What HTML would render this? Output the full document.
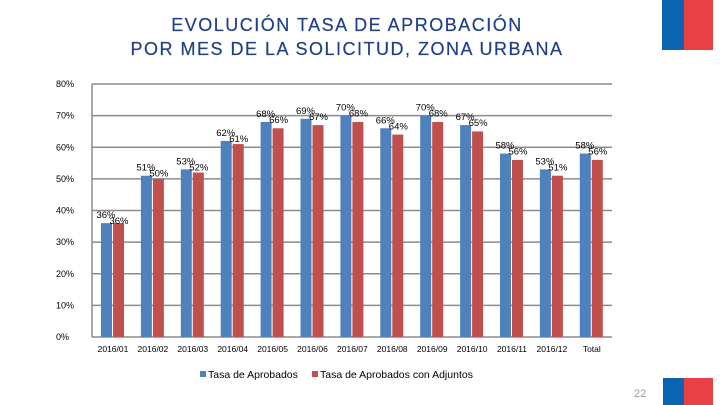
<!DOCTYPE html>
<html><head><meta charset="utf-8"><style>
body{margin:0;width:720px;height:405px;background:#fff;overflow:hidden;position:relative;font-family:"Liberation Sans",sans-serif}
.t{position:absolute;left:0;width:694px;text-align:center;color:#1f3f86;font-size:18px;letter-spacing:1.5px;-webkit-text-stroke:0.2px #1f3f86}
</style></head><body>
<div class="t" style="top:15px">EVOLUCIÓN TASA DE APROBACIÓN</div>
<div class="t" style="top:39px">POR MES DE LA SOLICITUD, ZONA URBANA</div>
<div style="position:absolute;left:662px;top:0;width:51px;height:50px;background:linear-gradient(90deg,#0b64b2 0 22px,#ea3f45 22px)"></div>
<div style="position:absolute;left:663px;top:378px;width:50px;height:27px;background:linear-gradient(90deg,#0b64b2 0 21px,#ea3f45 21px)"></div>
<div style="position:absolute;left:634px;top:388px;font-size:11px;color:#999">22</div>
<svg id="c" width="720" height="405" style="position:absolute;left:0;top:0"></svg>
<script>
const categories=["2016/01","2016/02","2016/03","2016/04","2016/05","2016/06","2016/07","2016/08","2016/09","2016/10","2016/11","2016/12","Total"];
const aprobados=[36,51,53,62,68,69,70,66,70,67,58,53,58];
const adjuntos=[36,50,52,61,66,67,68,64,68,65,56,51,56];
const ticks=[0,10,20,30,40,50,60,70,80];
const svg=document.getElementById('c');const NS='http://www.w3.org/2000/svg';
const y=v=>337-v*(253/80);
const xc=i=>113+i*39.9;
function mk(t,a,p){const e=document.createElementNS(NS,t);for(const k in a)e.setAttribute(k,a[k]);(p||svg).appendChild(e);return e;}
ticks.forEach(t=>{
 const l=mk('line',{x1:92,x2:612,y1:y(t),y2:y(t),stroke:'#8c8c8c','stroke-width':1.5});
 
 
 const tx=mk('text',{x:56,y:y(t)+3,'font-size':9,fill:'#000','font-family':'Liberation Sans'});tx.textContent=t+'%';
 
 
});
const ax=mk('line',{x1:92,x2:92,y1:84,y2:337,stroke:'#8c8c8c','stroke-width':1.5});


categories.forEach((c,i)=>{
 const cx=xc(i);
 const b=mk('rect',{x:cx-12,y:y(aprobados[i]),width:11,height:337-y(aprobados[i]),fill:'#4f81bd'});
 
 
 const r=mk('rect',{x:cx,y:y(adjuntos[i]),width:11,height:337-y(adjuntos[i]),fill:'#c0504d'});
 
 
 const l1=mk('text',{x:cx-7,y:y(aprobados[i])-5,'font-size':9.5,'text-anchor':'middle','font-family':'Liberation Sans'});l1.textContent=aprobados[i]+'%';
 
 
 const l2=mk('text',{x:cx+6,y:y(aprobados[i])+1,'font-size':9.5,'text-anchor':'middle','font-family':'Liberation Sans'});l2.textContent=adjuntos[i]+'%';
 
 
 const xl=mk('text',{x:cx,y:352,'font-size':8.5,'text-anchor':'middle','font-family':'Liberation Sans'});xl.textContent=c;
 
 
});
const lg=[[200,'#4f81bd','Tasa de Aprobados'],[312,'#c0504d','Tasa de Aprobados con Adjuntos']];
lg.forEach(([x,c,t],k)=>{
 const s=mk('rect',{x:x,y:371,width:6,height:6,fill:c});
 
 
 const tx=mk('text',{x:x+8,y:378,'font-size':10.5,'font-family':'Liberation Sans'});tx.textContent=t;
 
 
});
</script>
</body></html>
